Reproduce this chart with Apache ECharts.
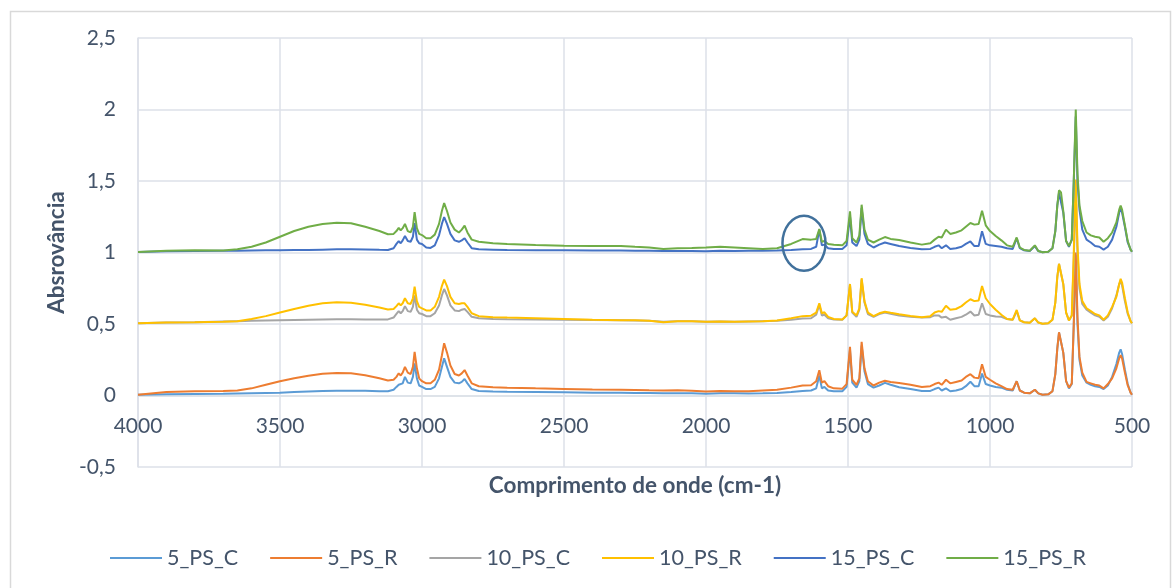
<!DOCTYPE html>
<html>
<head>
<meta charset="utf-8">
<script src="https://cdn.jsdelivr.net/npm/echarts/dist/echarts.min.js"></script>
<style>html,body{margin:0;padding:0;background:#fff}#c{width:1176px;height:588px}</style>
</head>
<body>
<div id="c"></div>
<script>
const wavenumbers = [
  4000, 3900, 3800, 3700, 3650, 3600, 3550, 3500, 3450, 3400,
  3350, 3300, 3250, 3200, 3150, 3120, 3100, 3090, 3082, 3075,
  3068, 3060, 3050, 3040, 3032, 3026, 3018, 3010, 3000, 2985,
  2970, 2955, 2940, 2930, 2922, 2912, 2900, 2885, 2870, 2860,
  2850, 2840, 2825, 2800, 2750, 2700, 2600, 2500, 2400, 2300,
  2250, 2200, 2150, 2100, 2050, 2000, 1950, 1900, 1850, 1800,
  1750, 1700, 1660, 1630, 1612, 1601, 1592, 1583, 1570, 1550,
  1520, 1505, 1493, 1485, 1470, 1460, 1452, 1442, 1430, 1410,
  1390, 1370, 1350, 1320, 1280, 1240, 1210, 1195, 1181, 1170,
  1155, 1140, 1120, 1100, 1085, 1069, 1055, 1040, 1028, 1015,
  1000, 980, 960, 940, 920, 906, 895, 880, 860, 842,
  830, 815, 795, 780, 770, 763, 757, 750, 742, 732,
  722, 712, 705, 698, 692, 685, 675, 660, 645, 630,
  615, 600, 585, 570, 555, 545, 540, 535, 525, 515,
  505, 500
];
const ps5C = [
  0.005, 0.008, 0.01, 0.012, 0.014, 0.016, 0.018, 0.02, 0.024, 0.028,
  0.032, 0.034, 0.034, 0.033, 0.03, 0.03, 0.04, 0.06, 0.075, 0.065,
  0.085, 0.13, 0.09, 0.085, 0.13, 0.225, 0.12, 0.07, 0.06, 0.045,
  0.045, 0.06, 0.12, 0.2, 0.26, 0.2, 0.13, 0.09, 0.085, 0.095,
  0.115, 0.085, 0.045, 0.032, 0.028, 0.026, 0.024, 0.022, 0.02, 0.019,
  0.018, 0.017, 0.015, 0.016, 0.016, 0.012, 0.015, 0.016, 0.014, 0.015,
  0.018, 0.025, 0.032, 0.035, 0.05, 0.14, 0.05, 0.06, 0.035, 0.03,
  0.03, 0.06, 0.32, 0.09, 0.055, 0.1, 0.35, 0.17, 0.08, 0.055,
  0.07, 0.088, 0.075, 0.058, 0.045, 0.032, 0.032, 0.045, 0.055, 0.035,
  0.05, 0.03, 0.035, 0.045, 0.065, 0.096, 0.065, 0.065, 0.154, 0.08,
  0.07, 0.06, 0.055, 0.04, 0.035, 0.1, 0.035, 0.02, 0.015, 0.04,
  0.015, 0.005, 0.008, 0.03, 0.15, 0.33, 0.44, 0.43, 0.3, 0.1,
  0.05, 0.08, 0.5, 0.98, 0.5, 0.25, 0.14, 0.09, 0.075, 0.065,
  0.06, 0.045, 0.07, 0.13, 0.22, 0.3, 0.323, 0.29, 0.18, 0.08,
  0.02, 0.005
];
const ps5R = [
  0.005, 0.025, 0.03, 0.032, 0.035, 0.05, 0.075, 0.1, 0.12, 0.138,
  0.152, 0.158, 0.155, 0.142, 0.12, 0.105, 0.11, 0.13, 0.155, 0.14,
  0.16, 0.2, 0.16, 0.15, 0.2, 0.305, 0.19, 0.12, 0.1, 0.085,
  0.085, 0.11, 0.18, 0.28, 0.365, 0.3, 0.21, 0.15, 0.14, 0.155,
  0.178, 0.14, 0.085, 0.065, 0.058, 0.055, 0.05, 0.046, 0.042, 0.04,
  0.038, 0.036, 0.035, 0.036, 0.034, 0.028, 0.032, 0.03, 0.03, 0.035,
  0.04, 0.055, 0.07, 0.072, 0.1, 0.177, 0.09, 0.1, 0.065, 0.05,
  0.048, 0.08, 0.341, 0.11, 0.075, 0.12, 0.376, 0.19, 0.1, 0.07,
  0.09, 0.103, 0.095, 0.088, 0.075, 0.06, 0.065, 0.08, 0.09, 0.075,
  0.11, 0.085, 0.095, 0.105, 0.13, 0.149, 0.125, 0.12, 0.219, 0.13,
  0.11, 0.085, 0.065, 0.045, 0.04, 0.1, 0.035, 0.02, 0.015, 0.04,
  0.015, 0.005, 0.008, 0.03, 0.15, 0.33, 0.442, 0.43, 0.3, 0.1,
  0.055, 0.085, 0.5, 1.0, 0.55, 0.27, 0.16, 0.095, 0.085, 0.075,
  0.07, 0.05, 0.08, 0.12, 0.19, 0.26, 0.283, 0.26, 0.16, 0.07,
  0.02, 0.005
];
const ps10C = [
  0.505, 0.51, 0.512, 0.518, 0.52, 0.522, 0.524, 0.526, 0.528, 0.53,
  0.532, 0.533, 0.533, 0.532, 0.532, 0.532, 0.545, 0.57, 0.59, 0.575,
  0.59, 0.625, 0.59, 0.585, 0.62, 0.70, 0.6, 0.575, 0.57, 0.555,
  0.555, 0.575, 0.63, 0.7, 0.745, 0.7, 0.63, 0.595, 0.59, 0.6,
  0.605, 0.585, 0.55, 0.54, 0.535, 0.533, 0.532, 0.53, 0.528, 0.526,
  0.525, 0.522, 0.515, 0.52, 0.52, 0.515, 0.518, 0.515, 0.518, 0.52,
  0.522, 0.53, 0.538, 0.54, 0.565, 0.635, 0.56, 0.565, 0.54, 0.532,
  0.53, 0.56, 0.775, 0.58, 0.55, 0.6, 0.81, 0.65, 0.57, 0.55,
  0.57, 0.58, 0.572, 0.56, 0.55, 0.545, 0.548, 0.56, 0.56, 0.545,
  0.55, 0.53, 0.54, 0.55, 0.565, 0.587, 0.56, 0.565, 0.645, 0.57,
  0.56, 0.552, 0.55, 0.535, 0.53, 0.59, 0.525, 0.512, 0.508, 0.54,
  0.51, 0.502, 0.505, 0.53, 0.65, 0.83, 0.92, 0.91, 0.78, 0.58,
  0.525, 0.56, 0.95, 1.45, 1.0, 0.75, 0.64, 0.6, 0.58, 0.56,
  0.55, 0.525, 0.55, 0.61, 0.7, 0.78, 0.8, 0.77, 0.66, 0.57,
  0.52, 0.505
];
const ps10R = [
  0.505, 0.51, 0.512, 0.515, 0.52, 0.535, 0.555, 0.58, 0.605, 0.628,
  0.645, 0.652, 0.648, 0.635, 0.615, 0.602, 0.605, 0.625, 0.645, 0.63,
  0.645, 0.68, 0.645, 0.64, 0.68, 0.762, 0.66, 0.62, 0.61, 0.595,
  0.595, 0.62, 0.69, 0.765, 0.81, 0.765, 0.69, 0.645, 0.64, 0.645,
  0.645, 0.62, 0.575, 0.555, 0.548, 0.545, 0.54, 0.535, 0.53, 0.527,
  0.526, 0.522, 0.512, 0.52, 0.52, 0.515, 0.518, 0.515, 0.518, 0.52,
  0.525, 0.54, 0.555, 0.558, 0.58, 0.645, 0.575, 0.582, 0.55, 0.535,
  0.532, 0.56, 0.78, 0.585, 0.56, 0.61, 0.82, 0.66, 0.58, 0.555,
  0.575, 0.586, 0.578, 0.568, 0.556, 0.548, 0.555, 0.58, 0.59, 0.585,
  0.628, 0.6, 0.605, 0.625, 0.65, 0.673, 0.66, 0.665, 0.766, 0.68,
  0.64, 0.6, 0.565, 0.535, 0.53, 0.598, 0.525, 0.512, 0.508, 0.54,
  0.51, 0.502, 0.505, 0.53, 0.65, 0.83, 0.921, 0.91, 0.78, 0.58,
  0.525, 0.56, 1.0, 1.51, 1.05, 0.78, 0.66, 0.61, 0.59, 0.57,
  0.56, 0.53, 0.56, 0.62, 0.69, 0.78, 0.816, 0.79, 0.68, 0.58,
  0.52, 0.505
];
const ps15C = [
  1.003, 1.008, 1.01, 1.012, 1.013, 1.014, 1.015, 1.016, 1.017, 1.018,
  1.02, 1.022, 1.022, 1.021, 1.019, 1.018, 1.03, 1.06, 1.08, 1.065,
  1.085, 1.115, 1.08, 1.075, 1.11, 1.205, 1.09, 1.065, 1.06, 1.035,
  1.032, 1.05, 1.12, 1.2, 1.248, 1.2, 1.13, 1.085, 1.075, 1.085,
  1.1, 1.07, 1.03, 1.022, 1.02, 1.018, 1.016, 1.015, 1.014, 1.014,
  1.013, 1.012, 1.01, 1.01, 1.01, 1.008, 1.012, 1.01, 1.012, 1.012,
  1.014, 1.018, 1.022, 1.025, 1.04, 1.16, 1.05, 1.055, 1.03, 1.025,
  1.025, 1.05, 1.253, 1.07, 1.045, 1.09, 1.31, 1.13, 1.06, 1.035,
  1.055, 1.07, 1.06, 1.045, 1.032, 1.023, 1.025, 1.04, 1.05, 1.03,
  1.05, 1.025, 1.03, 1.04, 1.06, 1.077, 1.045, 1.045, 1.148, 1.06,
  1.05, 1.045, 1.04, 1.03, 1.025, 1.1, 1.03, 1.015, 1.01, 1.045,
  1.01, 1.002, 1.005, 1.03, 1.15, 1.33, 1.416, 1.41, 1.28, 1.08,
  1.04, 1.09, 1.5, 1.95, 1.5, 1.3, 1.16, 1.09, 1.07, 1.045,
  1.04, 1.02, 1.04, 1.09, 1.18, 1.28, 1.31, 1.28, 1.18, 1.07,
  1.02, 1.005
];
const ps15R = [
  1.003, 1.012, 1.015, 1.014, 1.022, 1.04, 1.07, 1.11, 1.15, 1.18,
  1.2, 1.208, 1.205, 1.18, 1.15, 1.128, 1.13, 1.15, 1.172, 1.155,
  1.17, 1.2, 1.15, 1.14, 1.18, 1.283, 1.17, 1.13, 1.122, 1.1,
  1.1, 1.125, 1.2, 1.29, 1.346, 1.29, 1.21, 1.16, 1.14, 1.16,
  1.188, 1.14, 1.09, 1.075, 1.065, 1.06, 1.052, 1.048, 1.046, 1.046,
  1.04, 1.035, 1.025, 1.03, 1.032, 1.035, 1.04, 1.035, 1.03, 1.025,
  1.03, 1.06, 1.094, 1.09, 1.095, 1.164, 1.075, 1.08, 1.06, 1.055,
  1.05, 1.08, 1.288, 1.1, 1.07, 1.12, 1.334, 1.16, 1.09, 1.07,
  1.09, 1.108, 1.095, 1.088, 1.07, 1.055, 1.065, 1.09, 1.11, 1.105,
  1.16, 1.13, 1.14, 1.155, 1.18, 1.206, 1.195, 1.2, 1.292, 1.19,
  1.15, 1.115, 1.085, 1.05, 1.04, 1.105, 1.035, 1.018, 1.012, 1.05,
  1.01, 1.002, 1.005, 1.03, 1.15, 1.33, 1.435, 1.42, 1.29, 1.08,
  1.045, 1.09, 1.5, 2.0, 1.55, 1.33, 1.22, 1.14, 1.12, 1.11,
  1.105, 1.075, 1.1, 1.14, 1.21, 1.3, 1.328, 1.3, 1.19, 1.08,
  1.02, 1.005
];
const seriesNames = ['5_PS_C', '5_PS_R', '10_PS_C', '10_PS_R', '15_PS_C', '15_PS_R'];
const seriesValues = [ps5C, ps5R, ps10C, ps10R, ps15C, ps15R];
const seriesColors = ['#5B9BD5', '#ED7D31', '#A5A5A5', '#FFC000', '#4472C4', '#70AD47'];
const xTitle = 'Comprimento de onde (cm-1)';
const yTitle = 'Absrovância';
const annotationCenter = [1655, 1.065];

const textColor = '#44546a';
const gridColor = '#dce1e8';
const fontFamily = 'Lato, "Noto Sans", sans-serif';

const chart = echarts.init(document.getElementById('c'), null, {renderer: 'canvas'});
const option = {
  animation: false,
  backgroundColor: '#ffffff',
  color: seriesColors,
  grid: {left: 138, right: 44, top: 38, bottom: 121, containLabel: false},
  legend: {
    data: seriesNames,
    left: 105,
    top: 542,
    icon: 'rect',
    itemWidth: 52,
    itemHeight: 2,
    itemGap: 32,
    selectedMode: false,
    textStyle: {fontFamily: fontFamily, fontSize: 21.5, color: textColor}
  },
  xAxis: {
    type: 'value',
    inverse: true,
    min: 500,
    max: 4000,
    interval: 500,
    axisLine: {show: true, onZero: false, lineStyle: {color: gridColor, width: 1.5}},
    axisTick: {show: false},
    axisLabel: {fontFamily: fontFamily, fontSize: 21, color: textColor, margin: 20,
      showMinLabel: true, showMaxLabel: true, formatter: v => String(v)},
    splitLine: {show: true, lineStyle: {color: gridColor, width: 1.5}},
    name: xTitle,
    nameLocation: 'middle',
    nameGap: 79,
    nameTextStyle: {fontFamily: fontFamily, fontWeight: 'bold', fontSize: 22.5, color: textColor}
  },
  yAxis: {
    type: 'value',
    min: -0.5,
    max: 2.5,
    interval: 0.5,
    axisLine: {show: true, onZero: false, lineStyle: {color: gridColor, width: 1.5}},
    axisTick: {show: false},
    axisLabel: {
      fontFamily: fontFamily, fontSize: 21, color: textColor, margin: 22,
      formatter: v => String(v).replace('.', ',')
    },
    splitLine: {show: true, lineStyle: {color: gridColor, width: 1.5}},
    name: yTitle,
    nameLocation: 'middle',
    nameGap: 69,
    nameTextStyle: {fontFamily: fontFamily, fontWeight: 'bold', fontSize: 22.5, color: textColor}
  },
  series: seriesNames.map((name, k) => ({
    name: name,
    type: 'line',
    symbol: 'none',
    showSymbol: false,
    smooth: false,
    lineStyle: {width: 2, color: seriesColors[k]},
    itemStyle: {color: seriesColors[k]},
    data: wavenumbers.map((w, i) => [w, seriesValues[k][i]])
  }))
};
chart.setOption(option);

// place the horizontal axis on y = 0 using the library's own scale
const zeroPx = chart.convertToPixel({yAxisIndex: 0}, 0);
const bottomPx = chart.convertToPixel({yAxisIndex: 0}, option.yAxis.min);
const c = chart.convertToPixel({gridIndex: 0}, annotationCenter);
chart.setOption({
  xAxis: {offset: zeroPx - bottomPx},
  graphic: [
    {type: 'rect', left: 8, top: 9, z: -1, silent: true,
     shape: {x: 0, y: 0, width: 1160, height: 600},
     style: {fill: 'none', stroke: '#d9d9d9', lineWidth: 1.5}},
    {type: 'ellipse', z: 100, silent: true,
     shape: {cx: c[0], cy: c[1], rx: 21.5, ry: 27.5},
     style: {fill: 'none', stroke: '#41719c', lineWidth: 2.5}}
  ]
});
</script>
</body>
</html>
